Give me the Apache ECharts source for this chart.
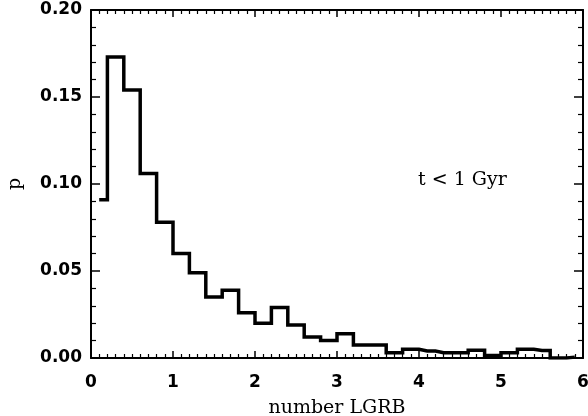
<!DOCTYPE html>
<html>
<head>
<meta charset="utf-8">
<script src="https://cdn.jsdelivr.net/npm/echarts@6/dist/echarts.min.js"></script>
<style>
  html, body { margin: 0; padding: 0; background: #fff; }
  #chart { width: 588px; height: 416px; }
</style>
</head>
<body>
<div id="chart"></div>
<script>
// bin centres (width 0.2) and probability per bin
const binCenters = [0.1, 0.3, 0.5, 0.7, 0.9, 1.1, 1.3, 1.5, 1.7, 1.9,
                    2.1, 2.3, 2.5, 2.7, 2.9, 3.1, 3.3, 3.5, 3.7, 3.9,
                    4.1, 4.3, 4.5, 4.7, 4.9, 5.1, 5.3, 5.5, 5.7, 5.9];
const pValues = [0.091, 0.173, 0.154, 0.106, 0.078, 0.060, 0.049, 0.035, 0.039, 0.026,
                 0.020, 0.029, 0.019, 0.012, 0.010, 0.014, 0.0075, 0.0075, 0.003, 0.005,
                 0.004, 0.003, 0.003, 0.0045, 0.0015, 0.003, 0.005, 0.0043, 0.0, 0.0005];
const xTicks = [0, 1, 2, 3, 4, 5, 6];
const yTicks = [0, 0.05, 0.10, 0.15, 0.20];

const chart = echarts.init(document.getElementById('chart'), null, { renderer: 'canvas' });

const labelFont = { color: '#000', fontFamily: 'DejaVu Sans', fontWeight: 'bold', fontSize: 17 };
const serifFont = { color: '#000', fontFamily: 'DejaVu Serif', fontSize: 19 };

// shared look for the four frame axes (IDL style, ticks inward)
function frameAxis(majorLen, minorLen, minorSplit) {
    return {
        axisLine: { show: true, onZero: false, lineStyle: { color: '#000', width: 2 } },
        axisTick: { show: true, inside: true, length: majorLen, lineStyle: { color: '#000', width: 1.5 } },
        minorTick: { show: true, splitNumber: minorSplit, length: minorLen, lineStyle: { color: '#000', width: 1.2 } },
        splitLine: { show: false },
        minorSplitLine: { show: false }
    };
}

const option = {
    animation: false,
    backgroundColor: '#fff',
    grid: { left: 91, right: 5, top: 10, bottom: 58, containLabel: false, outerBoundsMode: 'none' },
    xAxis: [
        {
            type: 'value', min: xTicks[0], max: xTicks[xTicks.length - 1], interval: 1,
            position: 'bottom',
            name: 'number LGRB', nameLocation: 'middle', nameGap: 41,
            nameTextStyle: Object.assign({}, serifFont),
            axisLabel: Object.assign({ margin: 16 }, labelFont),
            ...frameAxis(7, 4, 10)
        },
        {
            type: 'value', min: xTicks[0], max: xTicks[xTicks.length - 1], interval: 1,
            position: 'top',
            axisLabel: { show: false },
            ...frameAxis(7, 4, 10)
        }
    ],
    yAxis: [
        {
            type: 'value', min: yTicks[0], max: yTicks[yTicks.length - 1], interval: 0.05,
            position: 'left',
            name: 'p', nameLocation: 'middle', nameGap: 66, nameRotate: 90,
            nameTextStyle: Object.assign({}, serifFont),
            axisLabel: Object.assign({ margin: 9, formatter: v => v.toFixed(2) }, labelFont),
            ...frameAxis(9, 5, 5)
        },
        {
            type: 'value', min: yTicks[0], max: yTicks[yTicks.length - 1], interval: 0.05,
            position: 'right',
            axisLabel: { show: false },
            ...frameAxis(9, 5, 5)
        }
    ],
    graphic: [
        {
            type: 'text', left: 418, top: 171,
            style: { text: 't < 1 Gyr', fill: '#000', font: '19px "DejaVu Serif"' }
        }
    ],
    series: [
        {
            type: 'line',
            step: 'middle',
            showSymbol: false,
            clip: true,
            lineStyle: { color: '#000', width: 3.5, join: 'miter', cap: 'butt' },
            data: binCenters.map((x, i) => [x, pValues[i]])
        }
    ]
};

chart.setOption(option);
</script>
</body>
</html>
